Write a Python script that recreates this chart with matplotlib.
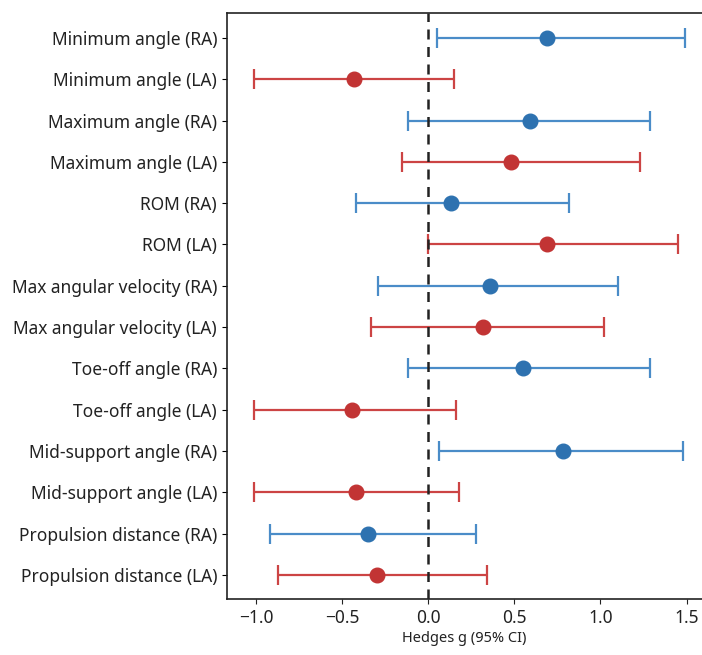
import numpy as np
import matplotlib
matplotlib.use("Agg")
import matplotlib.pyplot as plt

plt.rcParams['font.family'] = ['Noto Sans', 'DejaVu Sans']

### Data (Hedges g with 95% CI), top to bottom
labels = [
    "Minimum angle (RA)", "Minimum angle (LA)",
    "Maximum angle (RA)", "Maximum angle (LA)",
    "ROM (RA)", "ROM (LA)",
    "Max angular velocity (RA)", "Max angular velocity (LA)",
    "Toe-off angle (RA)", "Toe-off angle (LA)",
    "Mid-support angle (RA)", "Mid-support angle (LA)",
    "Propulsion distance (RA)", "Propulsion distance (LA)",
]
g = [0.69, -0.43, 0.59, 0.48, 0.13, 0.69, 0.36, 0.32, 0.55, -0.44, 0.78, -0.42, -0.35, -0.30]
ci_low = [0.05, -1.01, -0.12, -0.15, -0.42, 0.00, -0.29, -0.33, -0.12, -1.01, 0.06, -1.01, -0.92, -0.87]
ci_high = [1.49, 0.15, 1.29, 1.23, 0.82, 1.45, 1.10, 1.02, 1.29, 0.16, 1.48, 0.18, 0.28, 0.34]
side = ["RA", "LA"] * 7

colors = {"RA": "#2e72b0", "LA": "#c23434"}
err_colors = {"RA": "#4a8cc8", "LA": "#cc4444"}

fig = plt.figure(figsize=(7.02, 6.55), dpi=100)
ax = fig.add_axes([0.323, 0.0855, 0.677, 0.8945])

y = np.arange(len(labels))
for i in range(len(labels)):
    s = side[i]
    ax.errorbar(g[i], y[i],
                xerr=[[g[i] - ci_low[i]], [ci_high[i] - g[i]]],
                fmt='o', color=colors[s], ecolor=err_colors[s],
                markersize=10.5, elinewidth=1.6, capsize=7, capthick=1.6,
                zorder=3)

ax.axvline(0, color='#222222', linestyle=(0, (4, 3)), lw=1.8, zorder=4)

ax.set_yticks(y)
ax.set_yticklabels(labels, fontsize=12.5, color='#222222')
ax.set_ylim(13.58, -0.6)
ax.set_xlim(-1.17, 1.59)
ax.set_xticks([-1.0, -0.5, 0.0, 0.5, 1.0, 1.5])
ax.tick_params(axis='x', labelsize=12.5, colors='#222222')
ax.set_xlabel("Hedges g (95% CI)", fontsize=10.5, color='#222222', labelpad=3)

for sp in ax.spines.values():
    sp.set_linewidth(1.2)
    sp.set_color('#222222')
ax.spines['right'].set_visible(False)

fig.savefig("out.png", dpi=100)
